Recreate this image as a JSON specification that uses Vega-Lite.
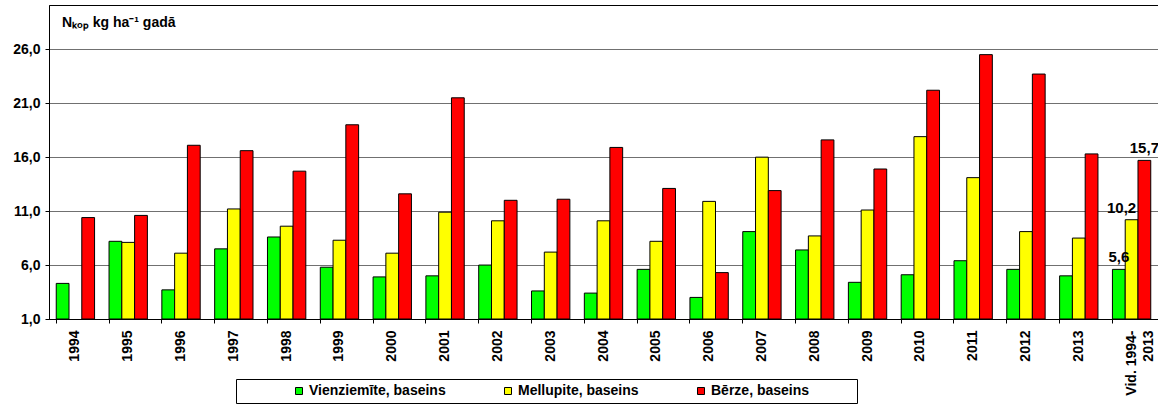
{
  "$schema": "https://vega.github.io/schema/vega-lite/v6.json",
  "width": 1109,
  "height": 314,
  "autosize": "none",
  "padding": {"left": 49, "top": 5, "right": 0, "bottom": 85},
  "background": "#ffffff",
  "config": {
    "view": {"stroke": "#000000", "strokeWidth": 1},
    "font": "Liberation Sans",
    "locale": {"number": {"decimal": ",", "thousands": " ", "grouping": [3], "currency": ["", " €"]}}
  },
  "title": {
    "text": "Nₖₒₚ kg ha⁻¹ gadā",
    "anchor": "start",
    "frame": "group",
    "orient": "top",
    "offset": -25,
    "dx": 13,
    "font": "Liberation Sans",
    "fontSize": 14,
    "fontWeight": "bold",
    "color": "#000000"
  },
  "data": {
    "values": [
      {"year": "1994", "series": "Vienziemīte, baseins", "value": 4.3},
      {"year": "1994", "series": "Bērze, baseins", "value": 10.4},
      {"year": "1995", "series": "Vienziemīte, baseins", "value": 8.2},
      {"year": "1995", "series": "Mellupite, baseins", "value": 8.1},
      {"year": "1995", "series": "Bērze, baseins", "value": 10.6},
      {"year": "1996", "series": "Vienziemīte, baseins", "value": 3.7},
      {"year": "1996", "series": "Mellupite, baseins", "value": 7.1},
      {"year": "1996", "series": "Bērze, baseins", "value": 17.1},
      {"year": "1997", "series": "Vienziemīte, baseins", "value": 7.5},
      {"year": "1997", "series": "Mellupite, baseins", "value": 11.2},
      {"year": "1997", "series": "Bērze, baseins", "value": 16.6},
      {"year": "1998", "series": "Vienziemīte, baseins", "value": 8.6},
      {"year": "1998", "series": "Mellupite, baseins", "value": 9.6},
      {"year": "1998", "series": "Bērze, baseins", "value": 14.7},
      {"year": "1999", "series": "Vienziemīte, baseins", "value": 5.8},
      {"year": "1999", "series": "Mellupite, baseins", "value": 8.3},
      {"year": "1999", "series": "Bērze, baseins", "value": 19.0},
      {"year": "2000", "series": "Vienziemīte, baseins", "value": 4.9},
      {"year": "2000", "series": "Mellupite, baseins", "value": 7.1},
      {"year": "2000", "series": "Bērze, baseins", "value": 12.6},
      {"year": "2001", "series": "Vienziemīte, baseins", "value": 5.0},
      {"year": "2001", "series": "Mellupite, baseins", "value": 10.9},
      {"year": "2001", "series": "Bērze, baseins", "value": 21.5},
      {"year": "2002", "series": "Vienziemīte, baseins", "value": 6.0},
      {"year": "2002", "series": "Mellupite, baseins", "value": 10.1},
      {"year": "2002", "series": "Bērze, baseins", "value": 12.0},
      {"year": "2003", "series": "Vienziemīte, baseins", "value": 3.6},
      {"year": "2003", "series": "Mellupite, baseins", "value": 7.2},
      {"year": "2003", "series": "Bērze, baseins", "value": 12.1},
      {"year": "2004", "series": "Vienziemīte, baseins", "value": 3.4},
      {"year": "2004", "series": "Mellupite, baseins", "value": 10.1},
      {"year": "2004", "series": "Bērze, baseins", "value": 16.9},
      {"year": "2005", "series": "Vienziemīte, baseins", "value": 5.6},
      {"year": "2005", "series": "Mellupite, baseins", "value": 8.2},
      {"year": "2005", "series": "Bērze, baseins", "value": 13.1},
      {"year": "2006", "series": "Vienziemīte, baseins", "value": 3.0},
      {"year": "2006", "series": "Mellupite, baseins", "value": 11.9},
      {"year": "2006", "series": "Bērze, baseins", "value": 5.3},
      {"year": "2007", "series": "Vienziemīte, baseins", "value": 9.1},
      {"year": "2007", "series": "Mellupite, baseins", "value": 16.0},
      {"year": "2007", "series": "Bērze, baseins", "value": 12.9},
      {"year": "2008", "series": "Vienziemīte, baseins", "value": 7.4},
      {"year": "2008", "series": "Mellupite, baseins", "value": 8.7},
      {"year": "2008", "series": "Bērze, baseins", "value": 17.6},
      {"year": "2009", "series": "Vienziemīte, baseins", "value": 4.4},
      {"year": "2009", "series": "Mellupite, baseins", "value": 11.1},
      {"year": "2009", "series": "Bērze, baseins", "value": 14.9},
      {"year": "2010", "series": "Vienziemīte, baseins", "value": 5.1},
      {"year": "2010", "series": "Mellupite, baseins", "value": 17.9},
      {"year": "2010", "series": "Bērze, baseins", "value": 22.2},
      {"year": "2011", "series": "Vienziemīte, baseins", "value": 6.4},
      {"year": "2011", "series": "Mellupite, baseins", "value": 14.1},
      {"year": "2011", "series": "Bērze, baseins", "value": 25.5},
      {"year": "2012", "series": "Vienziemīte, baseins", "value": 5.6},
      {"year": "2012", "series": "Mellupite, baseins", "value": 9.1},
      {"year": "2012", "series": "Bērze, baseins", "value": 23.7},
      {"year": "2013", "series": "Vienziemīte, baseins", "value": 5.0},
      {"year": "2013", "series": "Mellupite, baseins", "value": 8.5},
      {"year": "2013", "series": "Bērze, baseins", "value": 16.3},
      {"year": "Vid. 1994-2013", "series": "Vienziemīte, baseins", "value": 5.6},
      {"year": "Vid. 1994-2013", "series": "Mellupite, baseins", "value": 10.2},
      {"year": "Vid. 1994-2013", "series": "Bērze, baseins", "value": 15.7}
    ]
  },
  "encoding": {
    "x": {
      "field": "year",
      "type": "nominal",
      "sort": null,
      "scale": {"paddingInner": 0.274, "paddingOuter": 0.137},
      "axis": {
        "title": null,
        "labelAngle": -90,
        "labelFont": "Liberation Sans",
        "labelFontSize": 14,
        "labelFontWeight": "bold",
        "labelColor": "#000000",
        "labelPadding": 7,
        "labelLineHeight": 17,
        "labelExpr": "datum.value == 'Vid. 1994-2013' ? ['Vid. 1994-', '2013'] : datum.label",
        "bandPosition": 0,
        "tickSize": 4,
        "tickColor": "#000000",
        "domainColor": "#000000",
        "grid": false
      }
    },
    "xOffset": {
      "field": "series",
      "type": "nominal",
      "sort": ["Vienziemīte, baseins", "Mellupite, baseins", "Bērze, baseins"],
      "scale": {"paddingInner": 0, "paddingOuter": 0}
    },
    "y": {
      "field": "value",
      "type": "quantitative",
      "scale": {"domain": [1, 30.1], "nice": false, "zero": false},
      "axis": {
        "title": null,
        "values": [1, 6, 11, 16, 21, 26],
        "format": ".1f",
        "grid": true,
        "gridColor": "#707070",
        "gridWidth": 1,
        "labelFont": "Liberation Sans",
        "labelFontSize": 14,
        "labelFontWeight": "bold",
        "labelColor": "#000000",
        "labelPadding": 5,
        "tickSize": 4,
        "tickColor": "#000000",
        "domainColor": "#000000"
      }
    }
  },
  "layer": [
    {
      "mark": {"type": "bar", "stroke": "#000000", "strokeWidth": 1},
      "encoding": {
        "y2": {"datum": 1},
        "color": {
          "field": "series",
          "type": "nominal",
          "scale": {
            "domain": ["Vienziemīte, baseins", "Mellupite, baseins", "Bērze, baseins"],
            "range": ["#00ff00", "#ffff00", "#ff0000"]
          },
          "legend": {
            "orient": "none",
            "legendX": 187,
            "legendY": 374,
            "direction": "horizontal",
            "title": "\u200b\u00a0\u00a0\u00a0\u00a0\u00a0\u00a0\u00a0\u00a0\u00a0\u00a0\u00a0\u00a0\u00a0\u00a0\u200b",
            "titleOrient": "left",
            "titlePadding": 0,
            "titleFontSize": 13,
            "titleFont": "Liberation Sans",
            "strokeColor": "#000000",
            "fillColor": "#ffffff",
            "padding": 5,
            "symbolType": "square",
            "symbolSize": 49,
            "symbolStrokeColor": "#000000",
            "symbolStrokeWidth": 1,
            "labelFont": "Liberation Sans",
            "labelFontSize": 14,
            "labelFontWeight": "bold",
            "labelColor": "#000000",
            "labelOffset": 3,
            "labelLimit": 400,
            "columnPadding": 55,
            "labelExpr": "datum.label == 'Bērze, baseins' ? datum.label + '\u00a0\u00a0\u00a0\u00a0\u00a0\u00a0\u00a0\u00a0\u00a0\u00a0\u00a0\u200b' : datum.label"
          }
        }
      }
    },
    {
      "transform": [{"filter": "datum.year == 'Vid. 1994-2013' && datum.series != 'Mellupite, baseins'"}],
      "mark": {"type": "text", "baseline": "bottom", "dy": -4, "font": "Liberation Sans", "fontSize": 15, "fontWeight": "bold", "color": "#000000"},
      "encoding": {
        "text": {"field": "value", "type": "quantitative", "format": ".1f"}
      }
    },
    {
      "transform": [{"filter": "datum.year == 'Vid. 1994-2013' && datum.series == 'Mellupite, baseins'"}],
      "mark": {"type": "text", "baseline": "bottom", "dy": -4, "dx": -10, "font": "Liberation Sans", "fontSize": 15, "fontWeight": "bold", "color": "#000000"},
      "encoding": {
        "text": {"field": "value", "type": "quantitative", "format": ".1f"}
      }
    }
  ]
}
